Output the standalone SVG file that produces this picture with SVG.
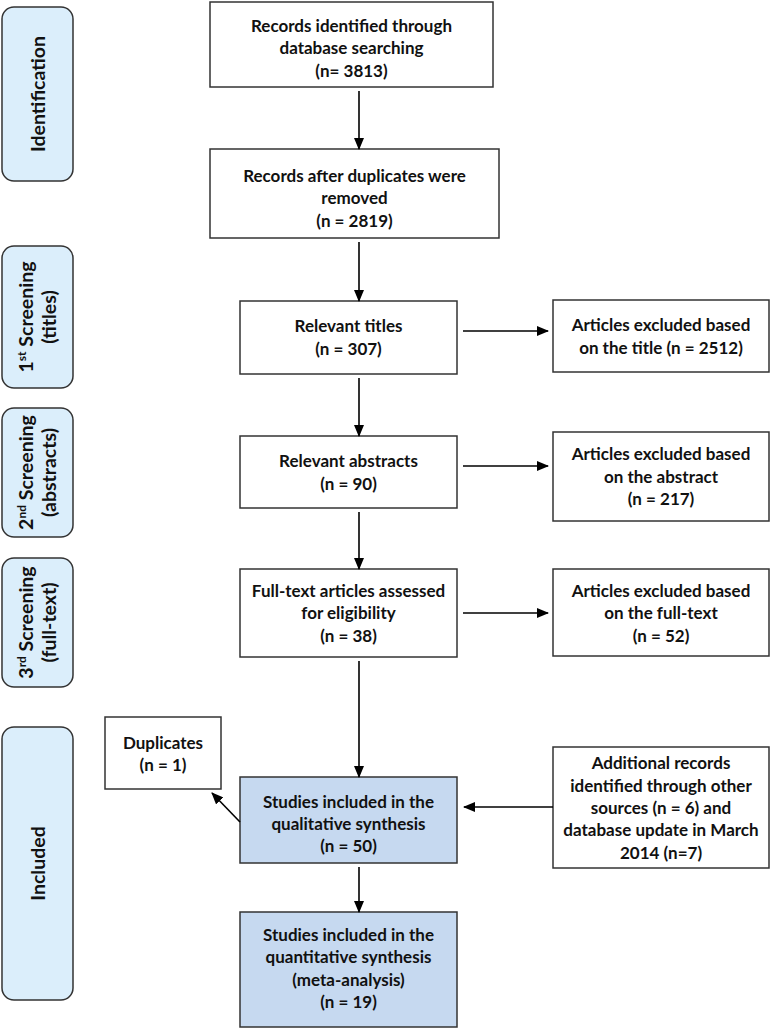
<svg xmlns="http://www.w3.org/2000/svg" width="772" height="1029" viewBox="0 0 772 1029">
<defs>
<marker id="ah" markerWidth="12" markerHeight="10" refX="11" refY="5" orient="auto" markerUnits="userSpaceOnUse">
<path d="M0,0 L12,5 L0,10 Z" fill="#000"/>
</marker>
<style>
.lbl{fill:#dbeefb;stroke:#333;stroke-width:1.5}
.box{fill:#fff;stroke:#333;stroke-width:1.5}
.inc{fill:#c6d9f0;stroke:#333;stroke-width:1.5}
text{font-family:Lato,"Open Sans","Liberation Sans",sans-serif;font-weight:bold;fill:#111}
.t{font-size:17px;text-anchor:middle}
.l{font-size:19.5px;text-anchor:middle}
.sup{font-size:12px}
.c line{stroke:#000;stroke-width:1.6;marker-end:url(#ah)}
</style>
</defs>
<rect width="772" height="1029" fill="#fff"/>

<g id="stage-identification">
<rect class="lbl" x="2" y="7" width="71" height="174" rx="12"/>
<text class="l" transform="translate(44.5,94) rotate(-90)">Identification</text>
</g>
<g id="stage-screening1">
<rect class="lbl" x="2" y="246" width="71" height="142" rx="12"/>
<text class="l" transform="translate(33,317) rotate(-90)">1<tspan class="sup" dy="-7">st</tspan><tspan dy="7"> Screening</tspan></text>
<text class="l" transform="translate(56,317) rotate(-90)">(titles)</text>
</g>
<g id="stage-screening2">
<rect class="lbl" x="2" y="408" width="71" height="129" rx="12"/>
<text class="l" transform="translate(33,472.5) rotate(-90)">2<tspan class="sup" dy="-7">nd</tspan><tspan dy="7"> Screening</tspan></text>
<text class="l" transform="translate(56,472.5) rotate(-90)">(abstracts)</text>
</g>
<g id="stage-screening3">
<rect class="lbl" x="2" y="558" width="71" height="129" rx="12"/>
<text class="l" transform="translate(33,622.5) rotate(-90)">3<tspan class="sup" dy="-7">rd</tspan><tspan dy="7"> Screening</tspan></text>
<text class="l" transform="translate(56,622.5) rotate(-90)">(full-text)</text>
</g>
<g id="stage-included">
<rect class="lbl" x="2" y="727" width="71" height="273" rx="12"/>
<text class="l" transform="translate(44.5,863.5) rotate(-90)">Included</text>
</g>

<g id="records-identified">
<rect class="box" x="210" y="2" width="283" height="85"/>
<text class="t" x="351.5" y="31.5">Records identified through</text>
<text class="t" x="351.5" y="54">database searching</text>
<text class="t" x="351.5" y="77">(n= 3813)</text>
</g>
<g id="records-deduplicated">
<rect class="box" x="210" y="149" width="289" height="89"/>
<text class="t" x="354.5" y="181.5">Records after duplicates were</text>
<text class="t" x="354.5" y="204">removed</text>
<text class="t" x="354.5" y="226.5">(n = 2819)</text>
</g>
<g id="relevant-titles">
<rect class="box" x="240" y="301" width="217" height="73"/>
<text class="t" x="348.5" y="331.5">Relevant titles</text>
<text class="t" x="348.5" y="354.5">(n = 307)</text>
</g>
<g id="excluded-title">
<rect class="box" x="553" y="300" width="216" height="72"/>
<text class="t" x="661" y="330.5">Articles excluded based</text>
<text class="t" x="661" y="353.5">on the title (n = 2512)</text>
</g>
<g id="relevant-abstracts">
<rect class="box" x="240" y="436" width="217" height="72"/>
<text class="t" x="348.5" y="466.5">Relevant abstracts</text>
<text class="t" x="348.5" y="489.5">(n = 90)</text>
</g>
<g id="excluded-abstract">
<rect class="box" x="553" y="432" width="216" height="89"/>
<text class="t" x="661" y="460">Articles excluded based</text>
<text class="t" x="661" y="482.5">on the abstract</text>
<text class="t" x="661" y="505">(n = 217)</text>
</g>
<g id="fulltext-assessed">
<rect class="box" x="240" y="569" width="217" height="88"/>
<text class="t" x="348.5" y="596.5">Full-text articles assessed</text>
<text class="t" x="348.5" y="619">for eligibility</text>
<text class="t" x="348.5" y="641.5">(n = 38)</text>
</g>
<g id="excluded-fulltext">
<rect class="box" x="553" y="569" width="216" height="87"/>
<text class="t" x="661" y="596.5">Articles excluded based</text>
<text class="t" x="661" y="619">on the full-text</text>
<text class="t" x="661" y="641.5">(n = 52)</text>
</g>
<g id="duplicates">
<rect class="box" x="105" y="717" width="116" height="72"/>
<text class="t" x="163" y="748.5">Duplicates</text>
<text class="t" x="163" y="771">(n = 1)</text>
</g>
<g id="qualitative">
<rect class="inc" x="240" y="777" width="217" height="86"/>
<text class="t" x="348.5" y="808">Studies included in the</text>
<text class="t" x="348.5" y="829.5">qualitative synthesis</text>
<text class="t" x="348.5" y="852">(n = 50)</text>
</g>
<g id="additional-records">
<rect class="box" x="553" y="747" width="216" height="121"/>
<text class="t" x="661" y="769">Additional records</text>
<text class="t" x="661" y="791.5">identified through other</text>
<text class="t" x="661" y="813.5">sources (n = 6) and</text>
<text class="t" x="661" y="836">database update in March</text>
<text class="t" x="661" y="858.5">2014 (n=7)</text>
</g>
<g id="quantitative">
<rect class="inc" x="240" y="912" width="217" height="115"/>
<text class="t" x="348.5" y="941">Studies included in the</text>
<text class="t" x="348.5" y="963">quantitative synthesis</text>
<text class="t" x="348.5" y="985.5">(meta-analysis)</text>
<text class="t" x="348.5" y="1008">(n = 19)</text>
</g>

<g id="connectors" class="c">
<line x1="359" y1="91" x2="359" y2="149"/>
<line x1="359" y1="242" x2="359" y2="301"/>
<line x1="359" y1="378" x2="359" y2="436"/>
<line x1="359" y1="512" x2="359" y2="569"/>
<line x1="359" y1="661" x2="359" y2="777"/>
<line x1="359" y1="867" x2="359" y2="912"/>
<line x1="463" y1="331" x2="548" y2="331"/>
<line x1="463" y1="466" x2="548" y2="466"/>
<line x1="463" y1="613" x2="548" y2="613"/>
<line x1="553" y1="807" x2="464" y2="807"/>
<line x1="240" y1="822" x2="212" y2="793"/>
</g>
</svg>
